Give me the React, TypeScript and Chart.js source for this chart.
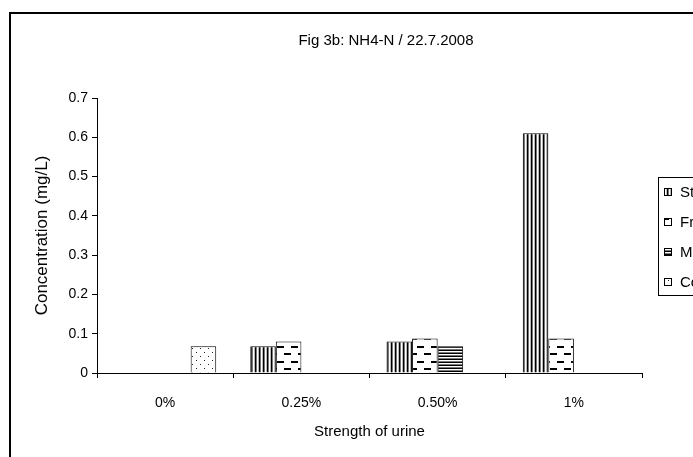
import React, { useEffect, useRef } from "react";
import { Chart, registerables } from "chart.js";

Chart.register(...registerables);

const chartTitle = "Fig 3b: NH4-N / 22.7.2008";
const xAxisTitle = "Strength of urine";
const yAxisTitle = "Concentration (mg/L)";
const categories = ["0%", "0.25%", "0.50%", "1%"];
const seriesNames = ["Stored", "Fresh", "Mixed", "Control"];
const storedValues = [null, 0.068, 0.08, 0.61];
const freshValues = [null, 0.08, 0.088, 0.088];
const mixedValues = [null, null, 0.068, null];
const controlValues = [0.068, null, null, null];
const yMin = 0;
const yMax = 0.7;
const yStep = 0.1;

const FONT = "'Liberation Sans', Arial, sans-serif";

function makePattern(kind: string): CanvasPattern | string {
  const c = document.createElement("canvas");
  const ctx = c.getContext("2d")!;
  if (kind === "vstripe") {
    c.width = 4; c.height = 4;
    const cols = ["#000", "#777", "#fff", "#bbb"];
    cols.forEach((col, i) => { ctx.fillStyle = col; ctx.fillRect(i, 0, 1, 4); });
  } else if (kind === "dash") {
    c.width = 14; c.height = 15;
    ctx.fillStyle = "#fff"; ctx.fillRect(0, 0, 14, 15);
    ctx.fillStyle = "#000";
    ctx.fillRect(0, 2, 7, 2);
    ctx.fillRect(7, 9, 7, 2);
  } else if (kind === "hstripe") {
    c.width = 4; c.height = 3;
    const rows = ["#000", "#fff", "#777"];
    rows.forEach((col, i) => { ctx.fillStyle = col; ctx.fillRect(0, i, 4, 1); });
  } else {
    c.width = 8; c.height = 8;
    ctx.fillStyle = "#fff"; ctx.fillRect(0, 0, 8, 8);
    ctx.fillStyle = "#222";
    ctx.fillRect(1, 2, 1, 1);
    ctx.fillRect(5, 6, 1, 1);
  }
  const p = ctx.createPattern(c, "repeat");
  return p || "#888";
}

export default function App() {
  const ref = useRef<HTMLCanvasElement | null>(null);

  useEffect(() => {
    if (!ref.current) return;
    const patterns = [
      makePattern("vstripe"),
      makePattern("dash"),
      makePattern("hstripe"),
      makePattern("dots"),
    ];
    const values = [storedValues, freshValues, mixedValues, controlValues];

    const decor = {
      id: "decor",
      afterDraw(chart: any) {
        const ctx = chart.ctx as CanvasRenderingContext2D;
        const area = chart.chartArea;
        ctx.save();
        ctx.fillStyle = "#000";
        ctx.textAlign = "center";
        ctx.textBaseline = "middle";
        ctx.font = `15px ${FONT}`;
        ctx.fillText(chartTitle, chart.width / 2, 27);
        ctx.fillText(xAxisTitle, (area.left + area.right) / 2, 418);
        ctx.save();
        ctx.translate(31, (area.top + area.bottom) / 2);
        ctx.rotate(-Math.PI / 2);
        ctx.font = `17px ${FONT}`;
        ctx.fillText(yAxisTitle, 0, 0);
        ctx.restore();

        // legend
        const lx = 647, ly = 163, lw = 110, lh = 118;
        ctx.fillStyle = "#fff";
        ctx.fillRect(lx, ly, lw, lh);
        ctx.strokeStyle = "#000";
        ctx.lineWidth = 1;
        ctx.strokeRect(lx + 0.5, ly + 0.5, lw, lh);
        ctx.textAlign = "left";
        ctx.font = `15px ${FONT}`;
        seriesNames.forEach((name, i) => {
          const cy = 178 + i * 30;
          ctx.fillStyle = patterns[i] as any;
          ctx.fillRect(653, cy - 4, 8, 8);
          ctx.strokeStyle = "#000";
          ctx.strokeRect(653.5, cy - 3.5, 7, 7);
          ctx.fillStyle = "#000";
          ctx.fillText(name, 669, cy + 1);
        });
        ctx.restore();
      },
    };

    const chart = new Chart(ref.current, {
      type: "bar",
      data: {
        labels: categories,
        datasets: seriesNames.map((name, i) => ({
          label: name,
          data: values[i] as any,
          backgroundColor: patterns[i] as any,
          borderColor: "#000",
          borderWidth: 1,
          categoryPercentage: 0.75,
          barPercentage: 1,
        })),
      },
      options: {
        animation: false,
        responsive: false,
        maintainAspectRatio: false,
        layout: { padding: { left: 0, top: 84, right: 119, bottom: 41 } },
        plugins: {
          legend: { display: false },
          title: { display: false },
          tooltip: { enabled: false },
        },
        scales: {
          x: {
            offset: true,
            grid: {
              display: true,
              offset: true,
              drawOnChartArea: false,
              drawTicks: true,
              tickLength: 5,
              color: "#000",
            },
            border: { display: true, color: "#000" },
            ticks: { color: "#000", font: { family: FONT, size: 14 }, padding: 17, maxRotation: 0 },
            afterFit(scale: any) { scale.height = 60; },
          },
          y: {
            min: yMin,
            max: yMax,
            grid: {
              display: true,
              drawOnChartArea: false,
              drawTicks: true,
              tickLength: 5,
              color: "#000",
            },
            border: { display: true, color: "#000" },
            ticks: { stepSize: yStep, color: "#000", font: { family: FONT, size: 14 }, padding: 4 },
            afterFit(scale: any) { scale.width = 86; },
          },
        },
      },
      plugins: [decor],
    });
    return () => chart.destroy();
  }, []);

  return (
    <div style={{ position: "fixed", left: 0, top: 0, width: 693, height: 457, overflow: "hidden", background: "#fff" }}>
      <div style={{ position: "absolute", left: 9, top: 12, border: "2px solid #000", width: 750, height: 460 }}>
        <canvas ref={ref} width={750} height={460} style={{ display: "block", width: 750, height: 460 }} />
      </div>
    </div>
  );
}
